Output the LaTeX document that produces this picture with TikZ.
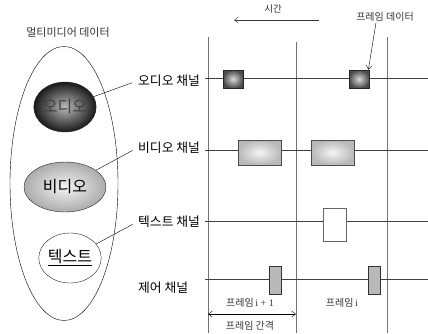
\documentclass[tikz,border=0pt]{standalone}
\usepackage{fontspec}
\setmainfont{Noto Sans CJK KR}
\newfontfamily\latinserif{Liberation Serif}
\usetikzlibrary{arrows.meta,positioning,shapes.geometric}

\begin{document}
\begin{tikzpicture}[
  x=1pt, y=-1pt, >={Straight Barb[length=4pt,width=6pt]},
  chlabel/.style={anchor=west, inner sep=1pt, font=\fontsize{12.8}{14}\selectfont},
  note/.style={inner sep=1pt, font=\fontsize{10}{11}\selectfont, text=black!80},
  media/.style={ellipse, draw=black!85, inner sep=0pt, font=\fontsize{16}{18}\selectfont},
  grid/.style={draw=black!55, line width=0.9pt},
  chline/.style={draw=black!75, line width=0.9pt},
  audframe/.style={draw=black!85, line width=0.8pt, minimum width=20pt, minimum height=18pt, inner sep=0pt, inner color=gray!30, outer color=black!70},
  vidframe/.style={draw=black!70, line width=0.8pt, minimum width=43pt, minimum height=25pt, inner sep=0pt, inner color=gray!8, outer color=gray!55},
  txtframe/.style={draw=black!60, line width=0.8pt, fill=white, minimum width=23pt, minimum height=33pt, inner sep=0pt},
  ctlframe/.style={draw=black!80, line width=0.8pt, fill=gray!55, minimum width=12pt, minimum height=28pt, inner sep=0pt},
]
\useasboundingbox (0,0) rectangle (428,333);
% left side: multimedia data
\node[note, font=\fontsize{11}{12}\selectfont] (mmtitle) at (68,32) {멀티미디어 데이터};
\node[ellipse, draw, minimum width=108pt, minimum height=274pt] (mm) at (64,183.5) {};
\node[media, minimum width=59pt, minimum height=50pt, inner color=gray!55, outer color=black!90, text=black!75] (aud) at (65,107) {오디오};
\node[media, minimum width=82pt, minimum height=50pt, inner color=gray!10, outer color=gray!65] (vid) at (65,187) {비디오};
\node[media, minimum width=60pt, minimum height=50pt, fill=white] (txt) at (70,258) {\underline{텍스트}};
% channel labels
\node[chlabel] (audch) at (137,81) {오디오 채널};
\node[chlabel] (vidch) at (137,148) {비디오 채널};
\node[chlabel] (txtch) at (137,222) {텍스트 채널};
\node[chlabel] (ctlch) at (137,288) {제어 채널};
\draw[shorten >=5pt] (aud) -- (audch.west);
\draw[shorten >=5pt] (vid) -- (vidch.west);
\draw[shorten >=5pt] (txt) -- (txtch.west);
% frame grid and channel lines
\draw[grid] (208,37) -- (208,333);
\draw[grid] (296,42) -- (296,333);
\draw[grid] (387,37) -- (387,333);
\foreach \y in {78,150,221,279}
  \draw[chline] (205,\y) -- (428,\y);
% frames
\node[audframe] (a1) at (233,79) {};
\node[audframe] (a2) at (359,79) {};
\node[vidframe] (v1) at (259.5,152.5) {};
\node[vidframe] (v2) at (332.5,152.5) {};
\node[txtframe] (t1) at (334.5,224.5) {};
\node[ctlframe] (c1) at (275,280) {};
\node[ctlframe] (c2) at (374,280) {};
% time arrow and frame data
\coordinate (tstart) at (319,20);
\coordinate (tend) at (234,20);
\draw[->, black!80] (tstart) -- (tend);
\node[note, font=\fontsize{9.5}{11}\selectfont] (time) at (273,9) {시간};
\node[note] (fd) at (385,17) {프레임 데이터};
\draw[->] ([xshift=-9pt]fd.south) -- ([xshift=-1pt]a2.north east);
% frame labels and interval
\node[note] (fi1) at (250,303) {프레임{\latinserif\,i + 1}};
\node[note] (fi) at (342,303) {프레임{\latinserif\,i}};
\coordinate (gapL) at (208,314);
\coordinate (gapR) at (296,314);
\draw[<->] (gapL) -- (gapR);
\node[note] (gap) at (250,326) {프레임 간격};
\end{tikzpicture}
\end{document}
